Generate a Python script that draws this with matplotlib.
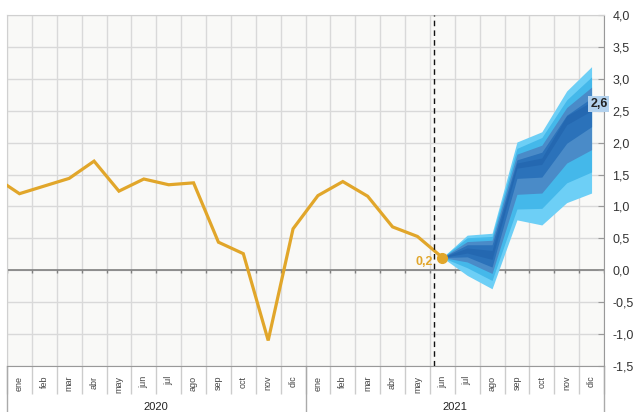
import numpy as np
import matplotlib.pyplot as plt
import matplotlib.transforms as mtransforms

plt.rcParams['font.family'] = ['Liberation Sans', 'DejaVu Sans']

# observed series: dic 2019 .. jun 2021
obs_values = [1.46, 1.20, 1.32, 1.44, 1.71, 1.24, 1.43, 1.34, 1.37, 0.44, 0.26, -1.10, 0.65,
              1.17, 1.39, 1.16, 0.68, 0.53, 0.20]
obs_start = -1  # dic 2019

# fan chart: jun 2021 .. dic 2021
fan_start = 17
lo90 = [0.20, -0.08, -0.29, 0.79, 0.71, 1.06, 1.21]
lo70 = [0.20, 0.04, -0.16, 0.96, 0.97, 1.37, 1.54]
lo50 = [0.20, 0.13, -0.05, 1.19, 1.21, 1.68, 1.89]
lo30 = [0.20, 0.21, 0.05, 1.44, 1.46, 1.99, 2.25]
lo10 = [0.20, 0.27, 0.17, 1.60, 1.66, 2.28, 2.50]
hi10 = [0.20, 0.35, 0.31, 1.68, 1.76, 2.42, 2.64]
hi30 = [0.20, 0.40, 0.40, 1.73, 1.85, 2.43, 2.70]
hi50 = [0.20, 0.45, 0.47, 1.82, 1.96, 2.55, 2.87]
hi70 = [0.20, 0.51, 0.53, 1.91, 2.08, 2.67, 3.03]
hi90 = [0.20, 0.55, 0.58, 2.01, 2.17, 2.81, 3.19]
last_forecast = 2.6

months = ['ene', 'feb', 'mar', 'abr', 'may', 'jun', 'jul', 'ago', 'sep', 'oct', 'nov', 'dic']
years = ['2020', '2021']
yticks = [-1.5, -1.0, -0.5, 0.0, 0.5, 1.0, 1.5, 2.0, 2.5, 3.0, 3.5, 4.0]
cut_x = 16.68

gold = '#E1A62A'
fan_colors = ['#6DCFF6', '#44B8EA', '#4A8BC8', '#2B72BA', '#2468B1']

fig = plt.figure(figsize=(6.34, 4.12), dpi=100)
ax = fig.add_axes([7 / 634, 46 / 412, 597 / 634, 351 / 412])
ax.set_facecolor('#F9F9F7')

n = len(months) * len(years)
ax.set_xlim(-0.5, n - 0.5)
ax.set_ylim(-1.5, 4.0)

# grid
for yv in yticks:
    ax.axhline(yv, color='#D9D9D9', lw=1, zorder=0)
for b in np.arange(-0.5, n, 1):
    ax.axvline(b, color='#D9D9D9', lw=1, zorder=0)
ax.axhline(0, color='#808080', lw=1.2, zorder=1)
ax.vlines(np.arange(-0.5, n, 1), -0.05, 0, color='#808080', lw=1, zorder=1)

# fan
fx = np.arange(fan_start, fan_start + len(lo90))
bands = [(lo90, hi90), (lo70, hi70), (lo50, hi50), (lo30, hi30), (lo10, hi10)]
for (lo, hi), c in zip(bands, fan_colors):
    ax.fill_between(fx, lo, hi, color=c, lw=0, zorder=2)

# observed line
ox = np.arange(obs_start, obs_start + len(obs_values))
ax.plot(ox, obs_values, color=gold, lw=2.3, zorder=3, solid_joinstyle='miter')
ax.plot(ox[-1], obs_values[-1], 'o', color=gold, ms=7, zorder=4)

ax.axvline(cut_x, color='#111111', lw=1, ls=(0, (4, 3)), zorder=5)

ax.annotate('0,2', (ox[-1], obs_values[-1]), xytext=(-7, -3), textcoords='offset points',
            ha='right', va='center', color=gold, fontsize=9, fontweight='bold', zorder=6)
ax.annotate('2,6', (fx[-1], last_forecast), xytext=(-1, 0), textcoords='offset points',
            ha='left', va='center', color='#222222', fontsize=9, fontweight='bold', zorder=6,
            bbox=dict(boxstyle='square,pad=0.15', fc='#B3D2EE', ec='none'), annotation_clip=False)

# y axis on right
ax.yaxis.tick_right()
ax.set_yticks(yticks)
ax.set_yticklabels([f'{v:.1f}'.replace('.', ',') for v in yticks])
ax.tick_params(axis='y', direction='in', length=4, color='#999999', labelsize=9,
               labelcolor='#333333', pad=6)

# x axis: months + years
ax.set_xticks(np.arange(n))
ax.set_xticklabels(months * len(years), rotation=90, fontsize=6.5, color='#444444', va='top')
ax.set_xticks(np.arange(-0.5, n, 1), minor=True)
ax.tick_params(axis='x', which='major', length=0, pad=7)
ax.tick_params(axis='x', which='minor', length=20, color='#CCCCCC', width=1)

trans = mtransforms.blended_transform_factory(ax.transData, ax.transAxes)
for k, yr in enumerate(years):
    ax.text(k * 12 + 5.5, -0.117, yr, transform=trans, ha='center', va='center',
            fontsize=8, color='#222222')
for b in np.arange(-0.5, n, 12):
    ax.plot([b, b], [0, -0.135], transform=trans, color='#AAAAAA', lw=1, clip_on=False)

for s in ['top', 'left']:
    ax.spines[s].set_color('#D0D0D0')
for s in ['right', 'bottom']:
    ax.spines[s].set_color('#999999')

fig.savefig('out.png', dpi=100, facecolor='white')
